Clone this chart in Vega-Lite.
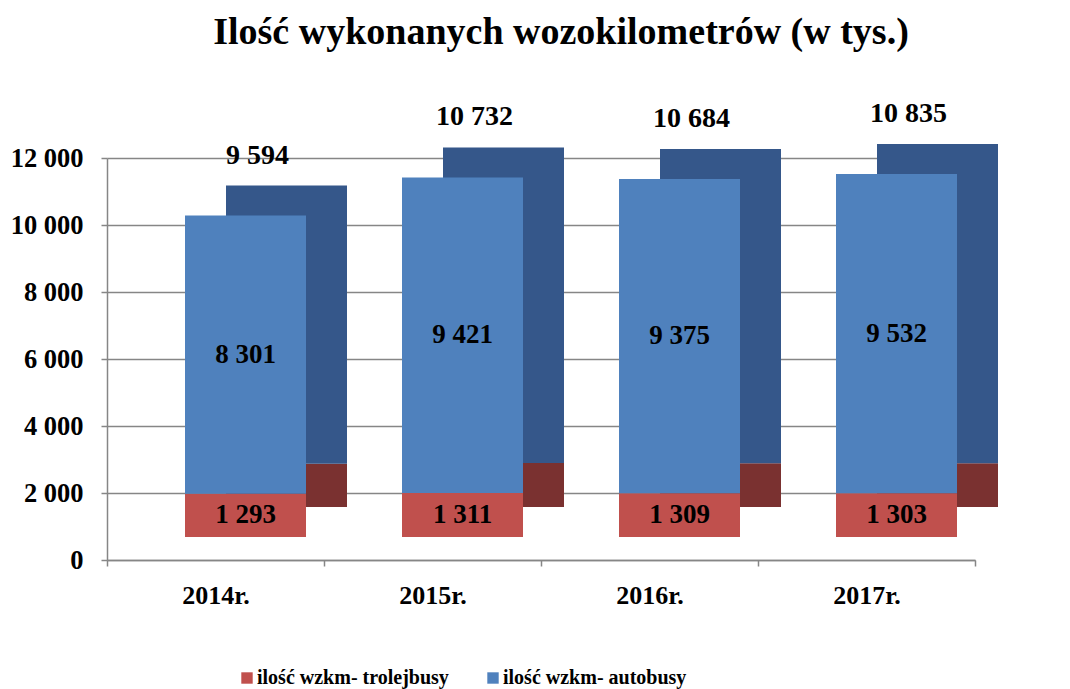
{
  "$schema": "https://vega.github.io/schema/vega-lite/v6.json",
  "width": 868,
  "height": 402,
  "autosize": {"type": "none"},
  "padding": {"left": 107, "top": 158, "right": 95, "bottom": 129},
  "background": "white",
  "title": {
    "text": "Ilość wykonanych wozokilometrów (w tys.)",
    "font": "Liberation Serif",
    "fontSize": 38,
    "fontWeight": "bold",
    "color": "black",
    "anchor": "middle",
    "frame": "group",
    "dx": 20,
    "baseline": "alphabetic",
    "offset": 18
  },
  "config": {
    "locale": {
      "number": {"decimal": ",", "thousands": " ", "grouping": [3], "currency": ["", " zł"]}
    },
    "view": {"stroke": null},
    "text": {"font": "Liberation Serif", "fontWeight": "bold", "color": "black"},
    "axis": {"labelFont": "Liberation Serif", "labelFontWeight": "bold", "labelColor": "black"}
  },
  "datasets": {
    "bars": [
      {"rok": "2014r.", "seria": "ilość wzkm- trolejbusy", "wartosc": 1293},
      {"rok": "2014r.", "seria": "ilość wzkm- autobusy", "wartosc": 8301},
      {"rok": "2015r.", "seria": "ilość wzkm- trolejbusy", "wartosc": 1311},
      {"rok": "2015r.", "seria": "ilość wzkm- autobusy", "wartosc": 9421},
      {"rok": "2016r.", "seria": "ilość wzkm- trolejbusy", "wartosc": 1309},
      {"rok": "2016r.", "seria": "ilość wzkm- autobusy", "wartosc": 9375},
      {"rok": "2017r.", "seria": "ilość wzkm- trolejbusy", "wartosc": 1303},
      {"rok": "2017r.", "seria": "ilość wzkm- autobusy", "wartosc": 9532}
    ],
    "totals": [
      {"rok": "2014r.", "suma": 9594},
      {"rok": "2015r.", "suma": 10732},
      {"rok": "2016r.", "suma": 10684},
      {"rok": "2017r.", "suma": 10835}
    ]
  },
  "layer": [
    {
      "data": {"name": "bars"},
      "mark": {"type": "bar", "size": 121, "xOffset": 71, "x2Offset": 71, "yOffset": -53, "y2Offset": -53},
      "encoding": {
        "x": {
          "field": "rok", "type": "nominal", "scale": {"paddingInner": 0, "paddingOuter": 0},
          "axis": {
            "title": null, "labelAngle": 0, "labelAlign": "center", "tickBand": "extent", "tickSize": 6,
            "domainColor": "#868686", "domainWidth": 1.5, "tickColor": "#868686", "tickWidth": 1.5,
            "labelFont": "Liberation Serif", "labelFontSize": 26, "labelFontWeight": "bold",
            "labelColor": "black", "labelPadding": 16, "labelBaseline": "top"
          }
        },
        "y": {
          "field": "wartosc", "type": "quantitative", "stack": "zero",
          "scale": {"domain": [0, 12000], "nice": false},
          "axis": {
            "title": null, "values": [0, 2000, 4000, 6000, 8000, 10000, 12000], "format": ",d",
            "tickSize": 6, "domainColor": "#868686", "domainWidth": 1.5, "tickColor": "#868686", "tickWidth": 1.5,
            "gridColor": "#868686", "gridWidth": 1.5,
            "labelFont": "Liberation Serif", "labelFontSize": 26.5, "labelFontWeight": "bold",
            "labelColor": "black", "labelPadding": 18
          }
        },
        "detail": {"field": "seria"},
        "order": {"field": "seria", "sort": "descending"},
        "color": {
          "condition": {"test": "datum.seria === 'ilość wzkm- trolejbusy'", "value": "#7A3130"},
          "value": "#35578A"
        }
      }
    },
    {
      "data": {"name": "bars"},
      "mark": {"type": "bar", "size": 121, "xOffset": 30, "x2Offset": 30, "yOffset": -23, "y2Offset": -23},
      "encoding": {
        "x": {"field": "rok", "type": "nominal"},
        "y": {"field": "wartosc", "type": "quantitative", "stack": "zero"},
        "order": {"field": "seria", "sort": "descending"},
        "color": {
          "field": "seria", "type": "nominal",
          "scale": {"domain": ["ilość wzkm- trolejbusy", "ilość wzkm- autobusy"], "range": ["#C0504D", "#4F81BD"]},
          "legend": {
            "title": null, "orient": "none", "legendX": 130, "legendY": 510, "direction": "horizontal",
            "symbolType": "square", "symbolSize": 130, "symbolStrokeWidth": 0,
            "labelFont": "Liberation Serif", "labelFontSize": 20, "labelFontWeight": "bold",
            "labelColor": "black", "columnPadding": 34, "labelOffset": 0, "labelLimit": 500
          }
        }
      }
    },
    {
      "data": {"name": "bars"},
      "transform": [
        {"stack": "wartosc", "groupby": ["rok"], "sort": [{"field": "seria", "order": "descending"}], "as": ["y0", "y1"]},
        {"calculate": "(datum.y0 + datum.y1) / 2", "as": "srodek"}
      ],
      "mark": {"type": "text", "font": "Liberation Serif", "fontWeight": "bold", "fontSize": 27, "baseline": "middle", "xOffset": 30, "yOffset": -23},
      "encoding": {
        "x": {"field": "rok", "type": "nominal"},
        "y": {"field": "srodek", "type": "quantitative"},
        "text": {"field": "wartosc", "type": "quantitative", "format": ",d"}
      }
    },
    {
      "data": {"name": "totals"},
      "mark": {"type": "text", "font": "Liberation Serif", "fontWeight": "bold", "fontSize": 28, "baseline": "middle", "xOffset": 42, "yOffset": -83},
      "encoding": {
        "x": {"field": "rok", "type": "nominal"},
        "y": {"field": "suma", "type": "quantitative"},
        "text": {"field": "suma", "type": "quantitative", "format": ",d"}
      }
    }
  ]
}
